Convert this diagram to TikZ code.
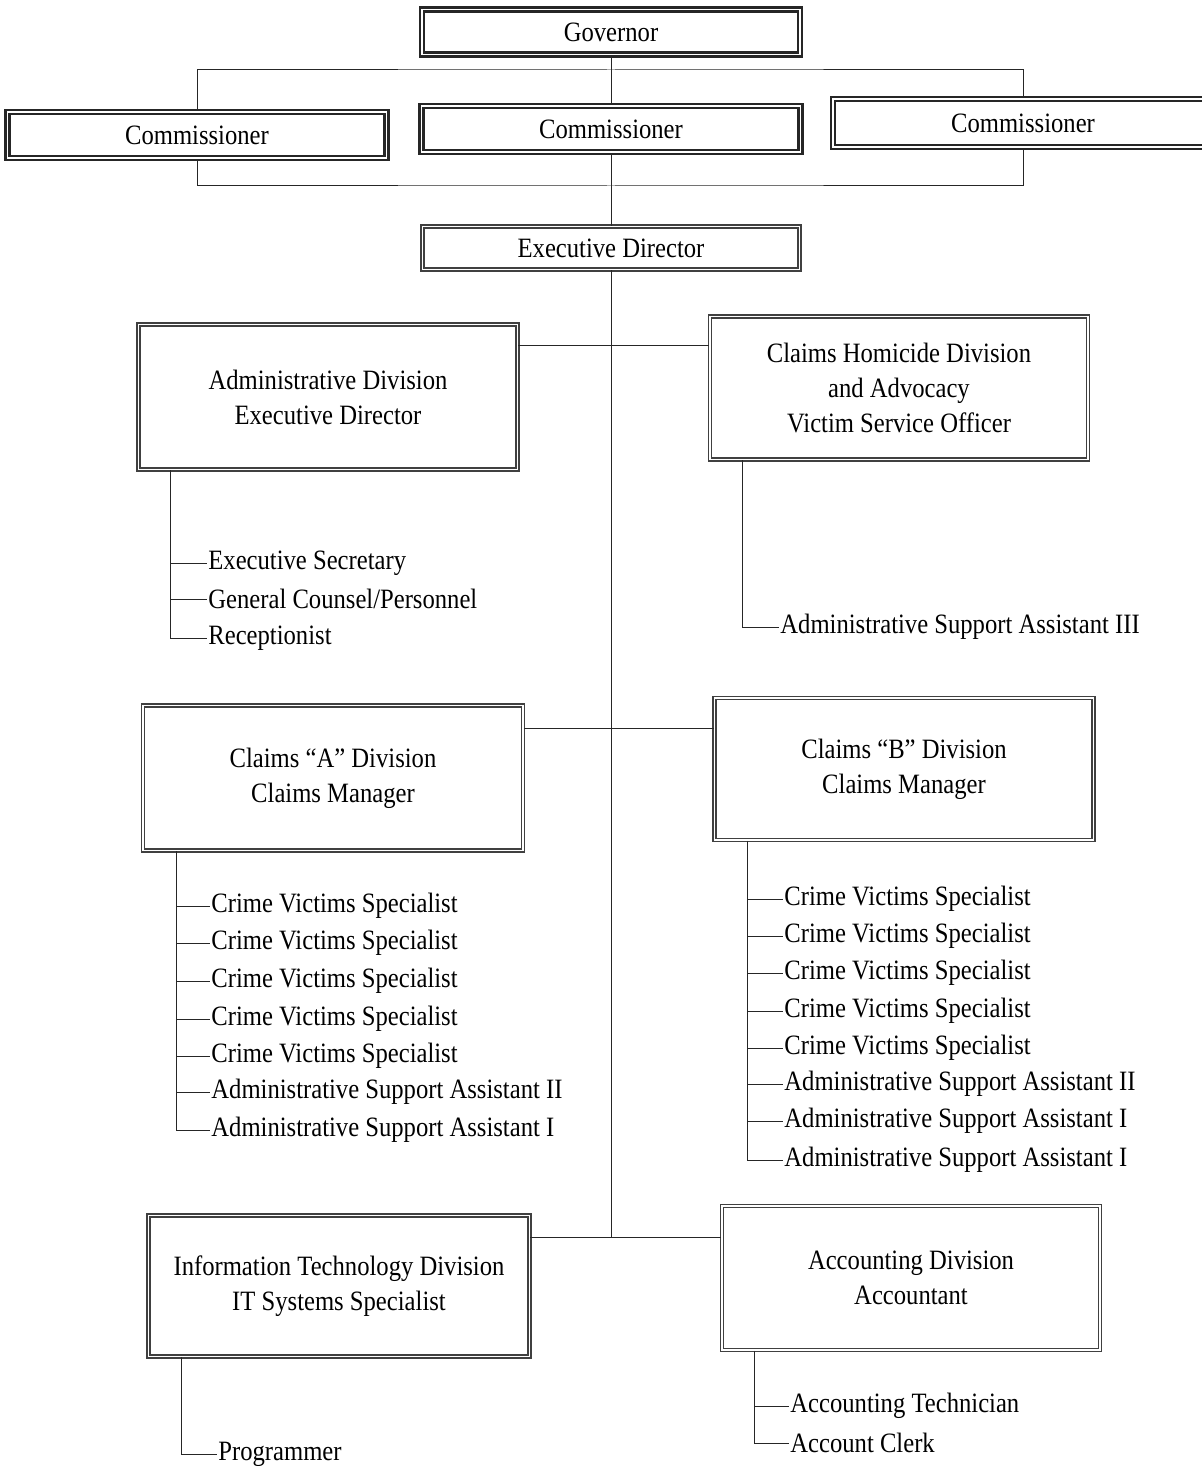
\documentclass[tikz,border=0pt]{standalone}
\usepackage{fontspec}
\setmainfont[FakeStretch=0.88]{Liberation Serif}
\begin{document}
\begin{tikzpicture}[x=0.5pt,y=-0.5pt,
  topbox/.style={draw=black!85, double=white, line width=1.3pt, double distance=0.7pt,
    inner sep=0pt, align=center, font=\fontsize{14}{17.5}\selectfont},
  divbox/.style={draw=black!75, double=white, line width=0.8pt, double distance=0.8pt,
    inner sep=0pt, align=center, font=\fontsize{14}{17.5}\selectfont},
  item/.style={anchor=west, inner xsep=0.5pt, inner ysep=1pt, yshift=-1pt, font=\fontsize{14}{17}\selectfont},
  conn/.style={draw=black!85, line width=0.5pt}]
\clip (0,0) rectangle (1202,1466);
\useasboundingbox (0,0) rectangle (1202,1466);

% top boxes
\node[topbox, minimum width=189pt, minimum height=22.5pt] (gov) at (611,32) {Governor};
\node[topbox, minimum width=189.5pt, minimum height=23pt] (c1) at (197,135) {Commissioner};
\node[topbox, minimum width=189.5pt, minimum height=23pt] (c2) at (611,129) {Commissioner};
\node[topbox, minimum width=190pt, minimum height=24pt] (c3) at (1023,123) {Commissioner};
\node[divbox, minimum width=188.5pt, minimum height=21.5pt] (ed) at (611,248) {Executive Director};

% division boxes
\node[divbox, minimum width=189.5pt, minimum height=72.5pt] (adm) at (328,397) {Administrative Division\\Executive Director};
\node[divbox, minimum width=189pt, minimum height=71.5pt] (chd) at (899,388) {Claims Homicide Division\\and Advocacy\\Victim Service Officer};
\node[divbox, minimum width=190pt, minimum height=72.5pt] (ca) at (333,778) {Claims ``A'' Division\\Claims Manager};
\node[divbox, minimum width=189.5pt, minimum height=71pt] (cb) at (904,769) {Claims ``B'' Division\\Claims Manager};
\node[divbox, minimum width=190.5pt, minimum height=70.5pt] (it) at (339,1286) {Information Technology Division\\IT Systems Specialist};
\node[divbox, minimum width=189pt, minimum height=72pt] (acc) at (911,1278) {Accounting Division\\Accountant};

% top connectors
\draw[conn] (gov.south) -- (c2.north);
\draw[conn] (c2.south) -- (ed.north);
\coordinate (brT) at (611,70);
\coordinate (brB) at (611,186);
\draw[conn] (c1.north) |- (brT) -| (c3.north);
\draw[conn] (c1.south) |- (brB) -| (c3.south);

% trunk and rows
\coordinate (r1) at (611,345);
\coordinate (r2) at (611,728);
\coordinate (r3) at (611,1237);
\draw[conn] (ed.south) -- (r3);
\draw[conn] (r1 -| adm.east) -- (r1 -| chd.west);
\draw[conn] (r2 -| ca.east) -- (r2 -| cb.west);
\draw[conn] (r3 -| it.east) -- (r3 -| acc.west);

% Administrative list
\node[item] (a1) at (207,561) {Executive Secretary};
\node[item] (a2) at (207,597) {General Counsel/Personnel};
\node[item] (a3) at (207,636) {Receptionist};
\coordinate (aT) at ([xshift=16.5pt]adm.south west);
\draw[conn] (aT) |- (a3.west);
\draw[conn] (aT |- a1.west) -- (a1.west);
\draw[conn] (aT |- a2.west) -- (a2.west);

% Claims Homicide list
\node[item] (h1) at (779,625) {Administrative Support Assistant III};
\coordinate (hT) at ([xshift=16.5pt]chd.south west);
\draw[conn] (hT) |- (h1.west);

% Claims A list
\node[item] (ca1) at (210,904) {Crime Victims Specialist};
\node[item] (ca2) at (210,941) {Crime Victims Specialist};
\node[item] (ca3) at (210,979) {Crime Victims Specialist};
\node[item] (ca4) at (210,1017) {Crime Victims Specialist};
\node[item] (ca5) at (210,1054) {Crime Victims Specialist};
\node[item] (ca6) at (210,1090) {Administrative Support Assistant II};
\node[item] (ca7) at (210,1128) {Administrative Support Assistant I};
\coordinate (caT) at ([xshift=17pt]ca.south west);
\draw[conn] (caT) |- (ca7.west);
\foreach \i in {1,...,6} { \draw[conn] (caT |- ca\i.west) -- (ca\i.west); }

% Claims B list
\node[item] (cb1) at (783,897) {Crime Victims Specialist};
\node[item] (cb2) at (783,934) {Crime Victims Specialist};
\node[item] (cb3) at (783,971) {Crime Victims Specialist};
\node[item] (cb4) at (783,1009) {Crime Victims Specialist};
\node[item] (cb5) at (783,1046) {Crime Victims Specialist};
\node[item] (cb6) at (783,1082) {Administrative Support Assistant II};
\node[item] (cb7) at (783,1119) {Administrative Support Assistant I};
\node[item] (cb8) at (783,1158) {Administrative Support Assistant I};
\coordinate (cbT) at ([xshift=17pt]cb.south west);
\draw[conn] (cbT) |- (cb8.west);
\foreach \i in {1,...,7} { \draw[conn] (cbT |- cb\i.west) -- (cb\i.west); }

% IT list
\node[item] (p1) at (217,1452) {Programmer};
\coordinate (itT) at ([xshift=17pt]it.south west);
\draw[conn] (itT) |- (p1.west);

% Accounting list
\node[item] (ac1) at (789,1404) {Accounting Technician};
\node[item] (ac2) at (789,1441) {Account Clerk};
\coordinate (acT) at ([xshift=16.5pt]acc.south west);
\draw[conn] (acT) |- (ac2.west);
\draw[conn] (acT |- ac1.west) -- (ac1.west);
\end{tikzpicture}
\end{document}
